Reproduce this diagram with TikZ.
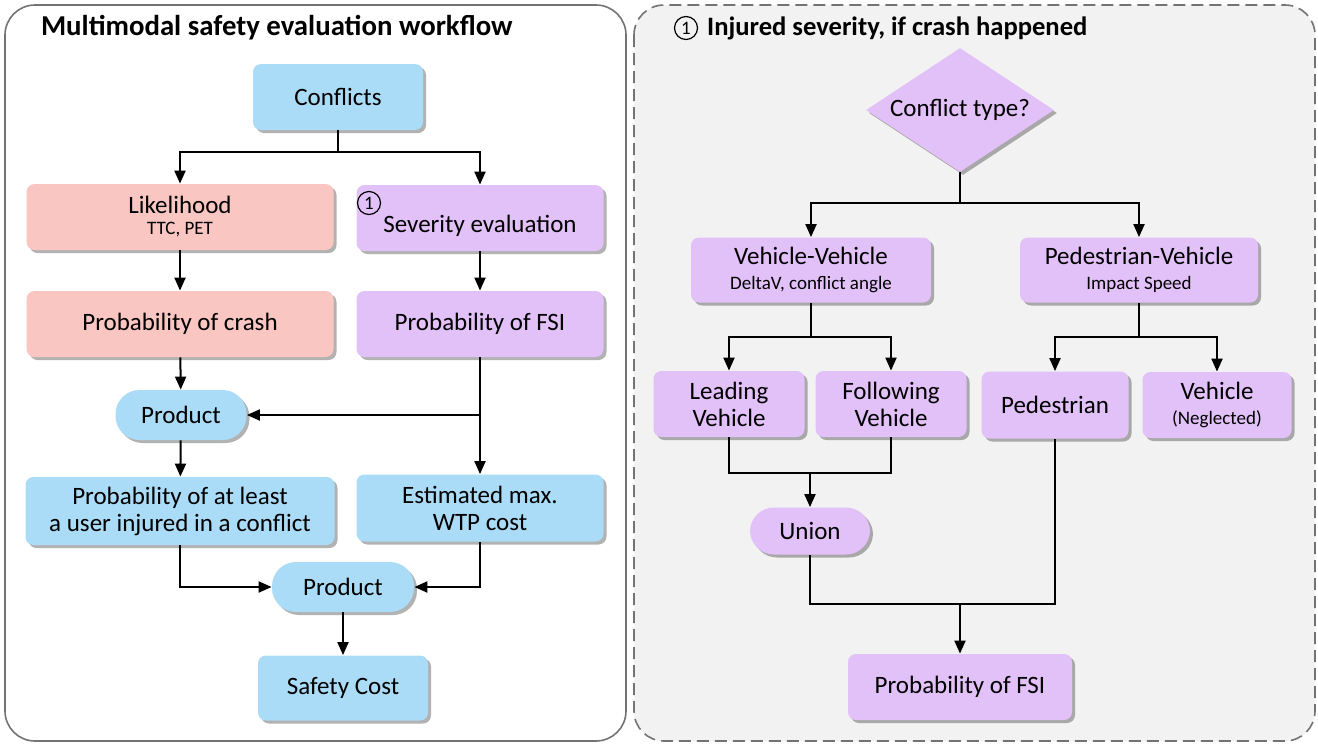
\documentclass[tikz,border=0pt]{standalone}
\usepackage{fontspec}
\setmainfont{Carlito}
\usetikzlibrary{shapes.geometric,shadows,arrows.meta}
\definecolor{boxblue}{RGB}{170,220,247}
\definecolor{boxpink}{RGB}{250,198,194}
\definecolor{boxlilac}{RGB}{226,192,248}
\definecolor{panelgray}{RGB}{242,242,242}
\definecolor{framegray}{RGB}{115,115,115}
\newcommand{\mainsize}{\fontsize{12.5}{13.5}\selectfont}
\newcommand{\subsize}{\fontsize{9.5}{11}\selectfont}
\newcommand{\titlesize}{\fontsize{14.4}{16}\selectfont\bfseries}

\begin{document}
\begin{tikzpicture}[x=0.5pt,y=0.5pt,
    box/.style={rectangle, rounded corners=4pt, align=center, inner sep=2pt, font=\mainsize,
      drop shadow={shadow xshift=1.5pt, shadow yshift=-1.5pt, opacity=0.3, fill=black}},
    bluebox/.style={box, fill=boxblue},
    pinkbox/.style={box, fill=boxpink},
    lilacbox/.style={box, fill=boxlilac},
    pill/.style={rounded corners=12pt},
    marker/.style={circle, draw, inner sep=0pt, minimum size=11.5pt, line width=0.6pt, font=\subsize},
    conn/.style={line width=1pt},
    arr/.style={conn, -{Triangle[width=5.5pt,length=6.5pt]}}]
  \useasboundingbox (0,0) rectangle (1318,-745);
  % panels
  \draw[framegray, line width=0.8pt, rounded corners=15pt] (5,-5) rectangle (626,-741);
  \draw[framegray, line width=0.8pt, dash pattern=on 6pt off 3pt, fill=panelgray, rounded corners=15pt] (634,-5) rectangle (1315,-741);
  \node[anchor=west, font=\titlesize] (ttl) at (34,-28) {Multimodal safety evaluation workflow};
  \node[marker] (mk1) at (686,-28) {1};
  \node[anchor=west, font=\fontsize{13.3}{15}\selectfont\bfseries] (ttr) at ([xshift=1pt]mk1.east) {Injured severity, if crash happened};

  % left workflow
  \node[bluebox, minimum width=85pt, minimum height=33pt] (conf) at (338,-97) {Conflicts};
  \node[pinkbox, minimum width=153.5pt, minimum height=33pt] (lik) at (180,-217) {Likelihood\\[-3pt]{\subsize TTC, PET}};
  \node[lilacbox, minimum width=123.5pt, minimum height=33pt] (sev) at (480,-218) {\strut\\[-6pt]Severity evaluation};
  \node[marker] (mk2) at (369,-203) {1};
  \node[pinkbox, minimum width=153.5pt, minimum height=33pt] (pcr) at (180,-324) {Probability of crash};
  \node[lilacbox, minimum width=123.5pt, minimum height=33pt] (pfsi) at (480,-324) {Probability of FSI};
  \node[bluebox, pill, minimum width=65.5pt, minimum height=25pt] (proda) at (181,-415) {Product};
  \node[bluebox, minimum width=154.5pt, minimum height=34pt] (pal) at (180,-511) {Probability of at least\\a user injured in a conflict};
  \node[bluebox, minimum width=123.5pt, minimum height=33.5pt] (wtp) at (480,-508) {Estimated max.\\WTP cost};
  \node[bluebox, pill, minimum width=71pt, minimum height=25pt] (prodb) at (343,-587) {Product};
  \node[bluebox, minimum width=85pt, minimum height=32.5pt] (cost) at (343,-688) {Safety Cost};

  \coordinate (la) at (338,-152);
  \draw[conn] (conf) -- (la);
  \draw[arr] (la) -| (lik.north);
  \draw[arr] (la) -| (sev.north);
  \draw[arr] (lik) -- (pcr);
  \draw[arr] (sev) -- (pfsi);
  \draw[arr] (pcr) -- (proda);
  \draw[arr] (pfsi) -- (wtp);
  \draw[arr] (pfsi.south |- proda.east) -- (proda.east);
  \draw[arr] (proda) -- (pal);
  \draw[arr] (pal.south) |- (prodb.west);
  \draw[arr] (wtp.south) |- (prodb.east);
  \draw[arr] (prodb) -- (cost);

  % right: severity
  \node[diamond, aspect=1.5, inner sep=0pt, minimum width=94pt, minimum height=62pt, fill=boxlilac, font=\mainsize,
    drop shadow={shadow xshift=1.5pt, shadow yshift=-1.5pt, opacity=0.3, fill=black}] (ctype) at (960,-110) {Conflict type?};
  \node[lilacbox, minimum width=120pt, minimum height=32.5pt] (vv) at (811,-270) {Vehicle-Vehicle\\[-1pt]{\subsize DeltaV, conflict angle}};
  \node[lilacbox, minimum width=119pt, minimum height=32.5pt] (pv) at (1139,-270) {Pedestrian-Vehicle\\[-1pt]{\subsize Impact Speed}};
  \node[lilacbox, minimum width=75.5pt, minimum height=33pt] (lead) at (729,-404) {Leading\\Vehicle};
  \node[lilacbox, minimum width=75.5pt, minimum height=33pt] (foll) at (891,-404) {Following\\Vehicle};
  \node[lilacbox, minimum width=73.5pt, minimum height=33.5pt] (ped) at (1055,-405) {Pedestrian};
  \node[lilacbox, minimum width=74.5pt, minimum height=33pt] (veh) at (1217,-405) {Vehicle\\[-1pt]{\subsize (Neglected)}};
  \node[lilacbox, pill, minimum width=60pt, minimum height=23.5pt] (uni) at (810,-531) {Union};
  \node[lilacbox, minimum width=112pt, minimum height=33pt] (fsi) at (960,-687) {Probability of FSI};

  \coordinate (ra) at (960,-203);
  \coordinate (rb) at (811,-337);
  \coordinate (rc) at (1139,-337);
  \coordinate (rd) at (810,-473);
  \coordinate (re) at (960,-604);
  \draw[conn] (ctype.south) -- (ra);
  \draw[arr] (ra) -| (vv.north);
  \draw[arr] (ra) -| (pv.north);
  \draw[conn] (vv) -- (rb);
  \draw[arr] (rb) -| (lead.north);
  \draw[arr] (rb) -| (foll.north);
  \draw[conn] (pv) -- (rc);
  \draw[arr] (rc) -| (ped.north);
  \draw[arr] (rc) -| (veh.north);
  \draw[conn] (lead.south) |- (rd) -| (foll.south);
  \draw[arr] (rd) -- (uni);
  \draw[conn] (uni.south) |- (re) -| (ped.south);
  \draw[arr] (re) -- (fsi);
\end{tikzpicture}
\end{document}
